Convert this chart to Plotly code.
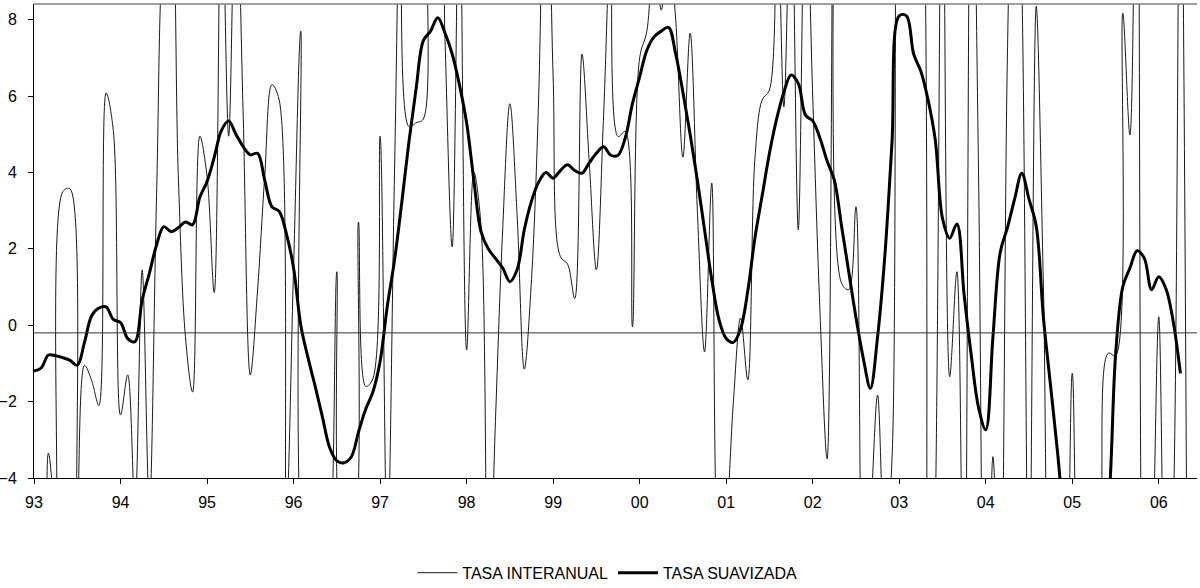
import plotly.graph_objects as go

# monthly data, Jan 1993 onwards (index = month number)
year_labels = ["93", "94", "95", "96", "97", "98", "99", "00", "01", "02", "03", "04", "05", "06"]

tasa_interanual = [
    -6, -6, -3.35, -5, 3.5, 3.57, -5, -1.05, -1.45, -2.1, 6.08, 5.1,
    -2.35, -1.3, -4.8, 1.45, -4.8, 3.4, 10, 11, 4.0, -0.3, -1.75, 4.95,
    3.9, 0.85, 12, 4.95, 12, 5.6, -1.3, 0.9, 3.9, 6.3, 5.9, -5,
    1.5, 7.7, -7, -7, -7, -6, 1.4, -6, -6, 2.7, -1.6, -1.4,
    4.95, -6, 4, 13, 5.2, 5.3, 5.4, 14, 14, 7.5, 2.05, 12,
    -0.65, 4.0, 2.6, -8, -2.5, 2.5, 5.8, 2.9, -1.15, 1.2, 6, 15,
    6.5, 1.8, 1.6, 0.7, 7.1, 4.3, 1.45, 5.5, 10, 4.94, 5.07, -0.04,
    7.0, 7.7, 10, 8.25, 10, 8, 4.4, 7.65, 3, -0.7, 3.72, -6,
    -5, -2, 0.19, -1.43, 4.4, 5.9, 6.16, 12, 5.72, 12, 2.5, 12,
    6.0, 0.4, -3.5, 14, 1.1, 0.93, 3.1, -7, -5, -1.83, -6, -3.5,
    16, 14, 14, 13, -12, -5, 14, -1.35, 1.4, -10, 15, 4,
    -14, -3.44, -8, 7, 15, 9, -8, 8.35, 1.0, -8, -9, -8,
    -1.26, -8, -9, -9, -5, -0.73, -0.8, 8.17, 4.98, 16, -10, -7,
    0.22, -9, -5, 14, -10,
]

tasa_suavizada = [
    -1.2, -1.12, -0.78, -0.8, -0.85, -0.92, -1.05, -0.45, 0.25, 0.45, 0.48, 0.15,
    0.07, -0.35, -0.43, 0.66, 1.36, 2.1, 2.58, 2.45, 2.55, 2.7, 2.63, 3.35,
    3.76, 4.4, 5.1, 5.35, 5.0, 4.68, 4.46, 4.5, 3.8, 3.1, 2.98, 2.4,
    1.5, 0.0, -0.85, -1.6, -2.4, -3.2, -3.55, -3.6, -3.45, -2.8, -2.2, -1.75,
    -0.95, 0.5, 1.7, 3.2, 4.8, 6.2, 7.45, 7.7, 8.05, 7.65, 7.1, 6.3,
    5.3, 3.8, 2.45, 2.0, 1.75, 1.5, 1.14, 1.45, 2.5, 3.25, 3.75, 4.0,
    3.85, 4.05, 4.2, 4.05, 3.98, 4.25, 4.5, 4.67, 4.45, 4.45, 4.9, 5.8,
    6.5, 7.2, 7.55, 7.7, 7.8, 7.1, 6.1, 5.0, 3.8, 2.5, 1.2, 0.15,
    -0.35, -0.45, -0.1, 0.9, 2.3, 3.4, 4.5, 5.4, 6.1, 6.55, 6.33, 5.5,
    5.35, 4.9, 4.3, 3.8, 2.6, 1.4, 0.2, -0.85, -1.65, -0.3, 1.8, 4.8,
    8.1, 8.1, 7.1, 6.65, 5.9, 4.85, 2.8, 2.28, 2.65, 0.8, -0.8, -2.15,
    -2.74, -0.3, 1.9, 2.55, 3.3, 3.98, 3.3, 2.6, 0.2, -1.6, -3.4, -5.5,
    -7, -8, -8, -7.5, -6, -4.8, -0.8, 1.0, 1.5, 1.95, 1.75, 0.93,
    1.27, 0.95, 0.1, -1.26,
]

ref_level = -0.2

months_thin = list(range(len(tasa_interanual)))
months_thick = list(range(len(tasa_suavizada)))
tick_pos = [12 * i for i in range(len(year_labels))]

fig = go.Figure()
fig.add_hline(y=ref_level, line_color="#333333", line_width=1)
fig.add_trace(go.Scatter(
    x=months_thin, y=tasa_interanual, mode="lines", name="TASA INTERANUAL",
    line=dict(color="#1a1a1a", width=1, shape="spline", smoothing=1),
))
fig.add_trace(go.Scatter(
    x=months_thick, y=tasa_suavizada, mode="lines", name="TASA SUAVIZADA",
    line=dict(color="black", width=3, shape="spline", smoothing=1),
))

# top border of the plot area
fig.add_shape(type="line", xref="paper", yref="paper", x0=0, x1=1, y0=1, y1=1,
              line=dict(color="#808080", width=1.5))

fig.update_xaxes(
    range=[0, 161.3], tickmode="array", tickvals=tick_pos, ticktext=year_labels,
    showgrid=False, zeroline=False, showline=True, linecolor="black", linewidth=1,
    ticks="outside", ticklen=5, tickcolor="black", ticklabelstandoff=5,
    automargin=False,
)
fig.update_yaxes(
    range=[-4, 8.41], tickmode="array", tickvals=[-4, -2, 0, 2, 4, 6, 8],
    showgrid=False, zeroline=False, showline=True, linecolor="black", linewidth=1,
    ticks="outside", ticklen=5, tickcolor="black", ticklabelstandoff=8,
    automargin=False,
)
fig.update_layout(
    width=1200, height=588,
    margin=dict(l=34, r=3, t=4, b=110, autoexpand=False),
    plot_bgcolor="white", paper_bgcolor="white",
    font=dict(family="Liberation Sans, Arial", size=16, color="black"),
    showlegend=True,
    legend=dict(orientation="h", x=0.493, xanchor="center", y=-0.2, yanchor="middle",
                font=dict(size=16), itemwidth=40),
)

# drop the page's default body margin so the chart sits at the window's corner
fig.write_html("out.html", config={"displayModeBar": False},
               post_script="document.body.style.margin='0';")
